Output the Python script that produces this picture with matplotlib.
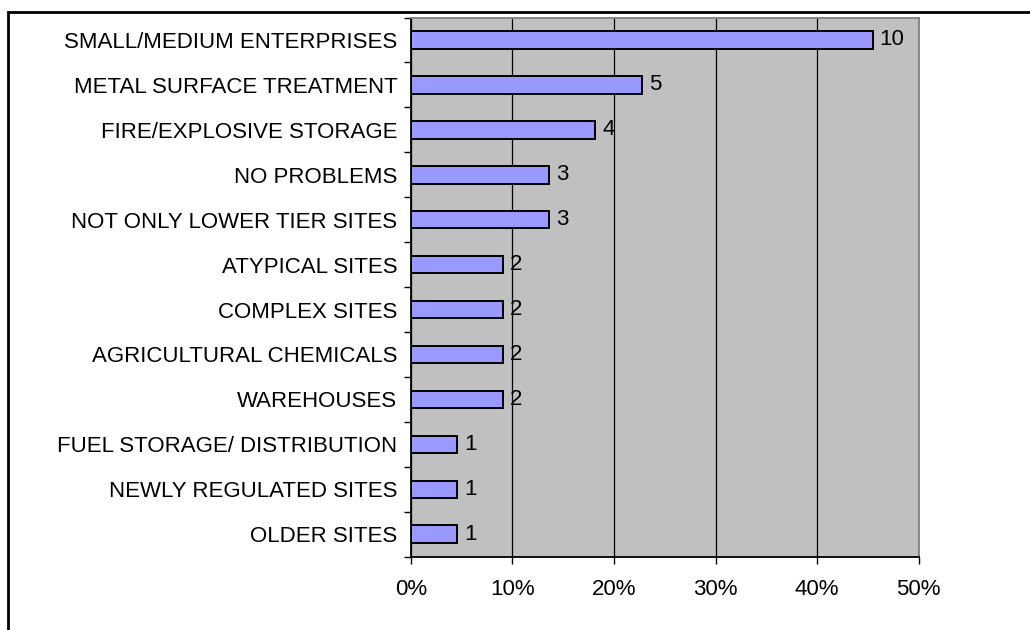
import matplotlib
matplotlib.use("Agg")
import matplotlib.pyplot as plt
from matplotlib.patches import Rectangle
from matplotlib.ticker import FixedLocator, PercentFormatter

plt.rcParams['font.family'] = ['Liberation Sans', 'DejaVu Sans']

# categories top to bottom, with number of mentions
categories = [
    "SMALL/MEDIUM ENTERPRISES",
    "METAL SURFACE TREATMENT",
    "FIRE/EXPLOSIVE STORAGE",
    "NO PROBLEMS",
    "NOT ONLY LOWER TIER SITES",
    "ATYPICAL SITES",
    "COMPLEX SITES",
    "AGRICULTURAL CHEMICALS",
    "WAREHOUSES",
    "FUEL STORAGE/ DISTRIBUTION",
    "NEWLY REGULATED SITES",
    "OLDER SITES",
]
counts = [10, 5, 4, 3, 3, 2, 2, 2, 2, 1, 1, 1]
n_respondents = 22
shares = [c / n_respondents for c in counts]

fs = 16

fig = plt.figure(figsize=(10.3, 6.3), dpi=100)
ax = fig.add_axes([410.7 / 1030, 1 - 556.7 / 630, 508 / 1030, 539.2 / 630])
ax.set_facecolor('#C0C0C0')

ypos = list(range(len(categories)))[::-1]
ax.barh(ypos, shares, height=0.39, color='#9999FF', edgecolor='black', linewidth=1.4, zorder=3)
for y, s, c in zip(ypos, shares, counts):
    ax.text(s + 0.007, y, str(c), va='center', ha='left', fontsize=fs, zorder=4)

ax.set_xlim(0, 0.5)
ax.set_ylim(-0.5, len(categories) - 0.5)
ax.xaxis.set_major_locator(FixedLocator([0, 0.1, 0.2, 0.3, 0.4, 0.5]))
ax.xaxis.set_major_formatter(PercentFormatter(1.0, decimals=0))
ax.grid(axis='x', color='black', linewidth=0.9, zorder=1)
ax.set_axisbelow(True)

# category labels centred on bars, ticks between categories
ax.set_yticks(ypos)
ax.set_yticklabels(categories, fontsize=fs)
ax.yaxis.set_minor_locator(FixedLocator([i - 0.5 for i in range(len(categories) + 1)]))
ax.tick_params(axis='y', which='major', length=0, pad=9.5)
ax.tick_params(axis='y', which='minor', length=5, width=1, color='black')
ax.tick_params(axis='x', length=5, width=1, pad=11, labelsize=fs)

for side in ('top', 'right'):
    ax.spines[side].set_color('#808080')
    ax.spines[side].set_linewidth(1.3)
for side in ('left', 'bottom'):
    ax.spines[side].set_color('black')
    ax.spines[side].set_linewidth(1.3)

# outer frame of the chart
fig.add_artist(Rectangle((8 / 1030, -0.1), 1.2, 1 - 11.5 / 630 + 0.1,
                         transform=fig.transFigure, fill=False,
                         edgecolor='black', linewidth=2))

fig.savefig('out.png', dpi=100)
